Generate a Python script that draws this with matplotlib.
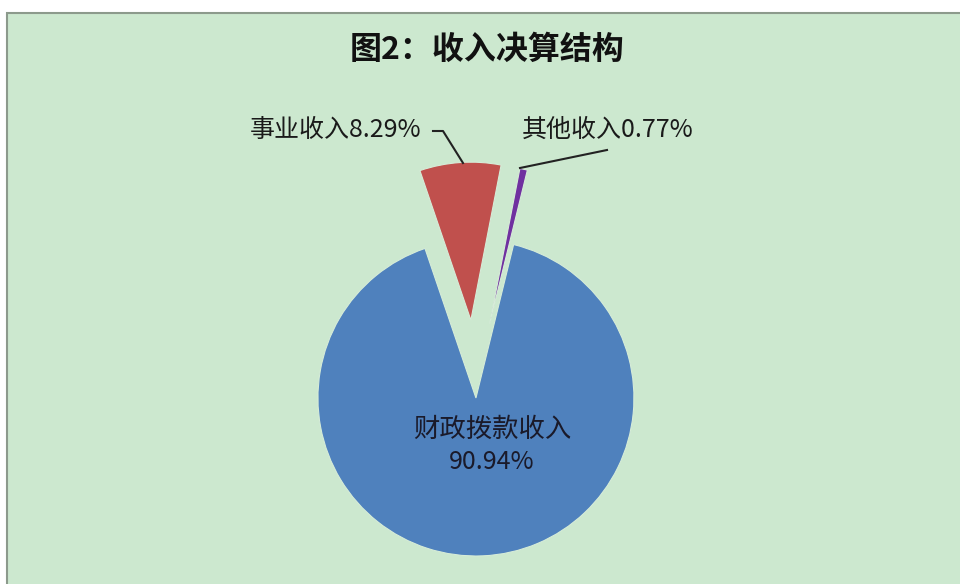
import matplotlib
matplotlib.use('Agg')
from matplotlib import pyplot as plt
from matplotlib.patches import Rectangle

plt.rcParams['font.family'] = ['Noto Sans CJK SC', 'DejaVu Sans']

# data
labels = ['财政拨款收入', '事业收入', '其他收入']
shares = [90.94, 8.29, 0.77]
colors = ['#4F81BD', '#C0504D', '#7030A0']
title = '图2：收入决算结构'

W, H = 960, 584
fig = plt.figure(figsize=(W / 100, H / 100), dpi=100)
fig.patch.set_facecolor('white')

ax = fig.add_axes([0, 0, 1, 1])
ax.set_facecolor('none')


def Y(y):
    # pixel row -> data y
    return H - y


# chart area with grey frame (cut off at right / bottom like the screenshot)
ax.add_patch(Rectangle((7, -20), W + 20, Y(13) + 20, facecolor='#CCE8CF',
                       edgecolor='#8C9A8C', linewidth=1.5, zorder=-5,
                       clip_on=False))

# explode is in data units here (axes are in pixels)
ax.pie(shares, colors=colors, startangle=76.2, counterclock=False,
       explode=[10, 68, 66], radius=158, center=(475.5, Y(388)),
       wedgeprops=dict(edgecolor='#D6ECD8', linewidth=0.8), frame=True)
ax.set_xlim(0, W)
ax.set_ylim(0, H)
ax.set_aspect('equal')
ax.axis('off')

ax.text(487, Y(50), title, fontsize=23, fontweight='bold', ha='center',
        va='center', color='#111111')

# labels
ax.text(250, Y(130), f'{labels[1]}{shares[1]:.2f}%', fontsize=18,
        ha='left', va='center', color='#1a1a1a')
ax.text(522, Y(130), f'{labels[2]}{shares[2]:.2f}%', fontsize=18,
        ha='left', va='center', color='#1a1a1a')
ax.text(492, Y(429), labels[0], fontsize=19, ha='center', va='center',
        color='#1a1a2a')
ax.text(492, Y(462), f'{shares[0]:.2f}%', fontsize=18, ha='center',
        va='center', color='#1a1a2a')

# leader lines
ax.plot([433, 443, 463], [Y(131), Y(131), Y(163)], color='#222222', lw=1.5)
ax.plot([607, 520], [Y(150), Y(168)], color='#222222', lw=1.5)

fig.savefig('out.png', dpi=100)
